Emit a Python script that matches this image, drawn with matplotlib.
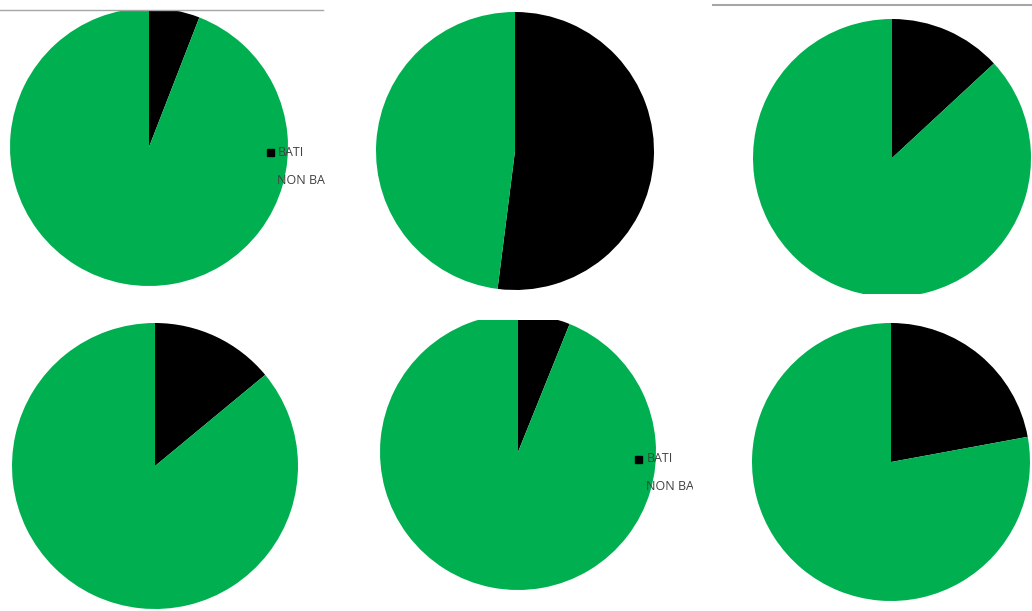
import matplotlib
matplotlib.use("Agg")
import matplotlib.pyplot as plt
from matplotlib.patches import Rectangle
from matplotlib.transforms import Bbox, TransformedBbox

# Data: share of BATI / NON BATI for each of the six pies (percent)
categories = ["BATI", "NON BATI"]
bati = [5.9, 52.0, 13.1, 14.0, 6.1, 22.1]
non_bati = [100 - v for v in bati]
colors = ["#000000", "#00B050"]

W, H = 1032, 611
fig = plt.figure(figsize=(W / 100, H / 100), dpi=100)
ax = fig.add_axes([0, 0, 1, 1])


def Y(py):
    return H - py


def clipbox(clip):
    x0, y0, x1, y1 = clip
    return TransformedBbox(Bbox([[x0, Y(y1)], [x1, Y(y0)]]), ax.transData)


# layout (pixel coords, y from top): center x, center y, radius, clip box (x0, y0, x1, y1)
layout = [
    (149, 147, 139, (0, 11, 325, 300)),
    (515, 151, 139, (340, 0, 700, 300)),
    (892, 158, 139, (713, 6, 1032, 294)),
    (155, 466, 143, (0, 305, 340, 611)),
    (518, 452, 138, (350, 320, 693, 611)),
    (891, 462, 139, (713, 305, 1032, 611)),
]

for vals_b, vals_n, (cx, cy, r, clip) in zip(bati, non_bati, layout):
    wedges, _ = ax.pie([vals_b, vals_n], colors=colors, startangle=90,
                       counterclock=False, center=(cx, Y(cy)), radius=r,
                       wedgeprops=dict(linewidth=0), frame=True)
    for w in wedges:
        w.set_clip_on(True)
        w.set_clip_box(clipbox(clip))

ax.set_xlim(0, W)
ax.set_ylim(0, H)
ax.set_aspect("equal")
ax.axis("off")

# legends (partially clipped, as in the reference)
legends = [
    (270, 152, 278, 181, (0, 11, 325, 300)),
    (638, 459, 647, 486, (350, 320, 693, 611)),
]
for mx, my, tx, ty2, clip in legends:
    ax.add_patch(Rectangle((mx - 3.5, Y(my) - 3.5), 7, 7, color="#000000", zorder=5))
    t1 = ax.text(tx, Y(my), categories[0], fontsize=9, color="#404040",
                 family="Open Sans", va="center", ha="left", zorder=5)
    t2 = ax.text(tx - 1, Y(ty2), categories[1], fontsize=9, color="#404040",
                 family="Open Sans", va="center", ha="left", zorder=5)
    for t in (t1, t2):
        t.set_clip_on(True)
        t.set_clip_box(clipbox(clip))

# thin border lines at the top
ax.plot([0, 323], [Y(10), Y(10)], color="#A6A6A6", linewidth=1.0)
ax.plot([713, 1032], [Y(5), Y(5)], color="#A6A6A6", linewidth=1.5)

fig.savefig("out.png", dpi=100)
